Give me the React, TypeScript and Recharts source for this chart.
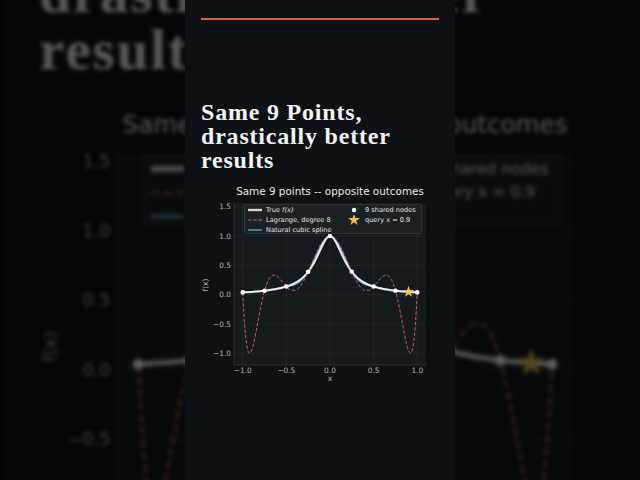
import React from 'react'
import { ComposedChart, Line, Scatter, XAxis, YAxis, CartesianGrid, Symbols } from 'recharts'

// true f(x) = 1 / (1 + 25x^2)
const trueX = [
  -1, -0.95, -0.9, -0.85, -0.8, -0.75, -0.7, -0.65, -0.6, -0.55, -0.5, -0.45, -0.4, -0.35, -0.3, -0.25,
  -0.225, -0.2, -0.175, -0.15, -0.125, -0.1, -0.075, -0.05, -0.025, 0,
  0.025, 0.05, 0.075, 0.1, 0.125, 0.15, 0.175, 0.2, 0.225,
  0.25, 0.3, 0.35, 0.4, 0.45, 0.5, 0.55, 0.6, 0.65, 0.7, 0.75, 0.8, 0.85, 0.9, 0.95, 1
]
const trueY = [
  0.0385, 0.0424, 0.0471, 0.0525, 0.0588, 0.0664, 0.0755, 0.0865, 0.1, 0.1168, 0.1379, 0.1649, 0.2, 0.2462, 0.3077, 0.3902,
  0.4414, 0.5, 0.5664, 0.64, 0.7191, 0.8, 0.8767, 0.9412, 0.9846, 1.0,
  0.9846, 0.9412, 0.8767, 0.8, 0.7191, 0.64, 0.5664, 0.5, 0.4414,
  0.3902, 0.3077, 0.2462, 0.2, 0.1649, 0.1379, 0.1168, 0.1, 0.0865, 0.0755, 0.0664, 0.0588, 0.0525, 0.0471, 0.0424, 0.0385
]

// degree-8 Lagrange curve (dashed)
const lagX = [
  -1, -0.975, -0.95, -0.925, -0.9, -0.875, -0.85, -0.825, -0.8, -0.775, -0.75, -0.725, -0.7, -0.675, -0.65, -0.625, -0.6,
  -0.55, -0.5, -0.45, -0.4, -0.35, -0.3, -0.25, -0.2, -0.15, -0.1, -0.05, 0,
  0.05, 0.1, 0.15, 0.2, 0.25, 0.3, 0.35, 0.4, 0.45, 0.5, 0.55,
  0.6, 0.625, 0.65, 0.675, 0.7, 0.725, 0.75, 0.775, 0.8, 0.825, 0.85, 0.875, 0.9, 0.925, 0.95, 0.975, 1
]
const lagY = [
  0.038, -0.574, -0.892, -0.998, -0.96, -0.831, -0.652, -0.454, -0.259, -0.082, 0.066, 0.182, 0.264, 0.313, 0.333, 0.328, 0.305,
  0.225, 0.138, 0.079, 0.073, 0.127, 0.237, 0.39, 0.564, 0.733, 0.874, 0.967, 1.0,
  0.967, 0.874, 0.733, 0.564, 0.39, 0.237, 0.127, 0.073, 0.079, 0.138, 0.225,
  0.305, 0.328, 0.333, 0.313, 0.264, 0.182, 0.066, -0.082, -0.259, -0.454, -0.652, -0.831, -0.96, -0.998, -0.892, -0.574, 0.038
]

// the 9 shared nodes (spline goes through these)
const nodeX = [-1, -0.75, -0.5, -0.25, 0, 0.25, 0.5, 0.75, 1]
const nodeY = [0.0385, 0.0664, 0.1379, 0.3902, 1.0, 0.3902, 0.1379, 0.0664, 0.0385]

const queryX = [0.9]
const queryY = [0.0471]

const xTicks = [-1, -0.5, 0, 0.5, 1]
const yTicks = [-1, -0.5, 0, 0.5, 1, 1.5]
// ticks still on screen in the enlarged background copy
const bgYTicks = [-0.5, 0, 0.5, 1, 1.5]

const toPoints = (xs: number[], ys: number[]) => xs.map((x, i) => ({ x, y: ys[i] }))

const trueData = toPoints(trueX, trueY)
const lagData = toPoints(lagX, lagY)
const nodeData = toPoints(nodeX, nodeY)
const queryData = toPoints(queryX, queryY)

const PANEL_BG = '#0d1115'
const PLOT_BG = '#151a1f'
const TRUE_COLOR = '#ececec'
const LAG_COLOR = '#c95a72'
const SPLINE_COLOR = '#5fbfe4'
const STAR_COLOR = '#f1c452'
const TICK_COLOR = '#aab0b5'
const SANS = '"DejaVu Sans", sans-serif'

const fmt = (v: number) => v.toFixed(1).replace('-', '\u2212')

// bg = the enlarged copy behind the panel; it skips texts that end up off-screen or hidden
function Chart({ bg }: { bg: boolean }) {
  return (
    <ComposedChart
      width={270}
      height={210}
      margin={{ top: 23, right: 29, bottom: 0, left: 0 }}
      style={{ position: 'absolute', left: 0, top: 180 }}
    >
      <CartesianGrid
        stroke="#262c32"
        strokeWidth={0.6}
        fill={PLOT_BG}
        horizontalValues={yTicks}
        verticalValues={xTicks}
      />
      <XAxis
        dataKey="x"
        type="number"
        domain={[-1.1, 1.1]}
        ticks={xTicks}
        tickFormatter={fmt}
        allowDataOverflow
        height={25}
        tickSize={0}
        tickMargin={3}
        axisLine={{ stroke: '#2b3137' }}
        tick={bg ? false : { fontSize: 7.4, fill: TICK_COLOR, fontFamily: SANS }}
      />
      <YAxis
        dataKey="y"
        type="number"
        domain={[-1.2, 1.563]}
        ticks={bg ? bgYTicks : yTicks}
        tickFormatter={fmt}
        allowDataOverflow
        width={49}
        tickSize={0}
        tickMargin={3}
        axisLine={{ stroke: '#2b3137' }}
        tick={{ fontSize: 7.4, fill: TICK_COLOR, fontFamily: SANS }}
      />
      <Line
        data={nodeData}
        dataKey="y"
        type="natural"
        stroke={SPLINE_COLOR}
        strokeWidth={1.3}
        dot={false}
        activeDot={false}
        isAnimationActive={false}
      />
      <Line
        data={trueData}
        dataKey="y"
        type="monotone"
        stroke={TRUE_COLOR}
        strokeWidth={2}
        dot={false}
        activeDot={false}
        isAnimationActive={false}
      />
      <Line
        data={lagData}
        dataKey="y"
        type="monotone"
        stroke={LAG_COLOR}
        strokeWidth={1}
        strokeDasharray="3.5 1.8"
        dot={false}
        activeDot={false}
        isAnimationActive={false}
      />
      <Scatter
        data={nodeData}
        dataKey="y"
        isAnimationActive={false}
        shape={(p: any) => <circle cx={p.cx} cy={p.cy} r={2.3} fill="#ffffff" />}
      />
      <Scatter
        data={queryData}
        dataKey="y"
        isAnimationActive={false}
        shape={(p: any) => <Symbols cx={p.cx} cy={p.cy} type="star" size={42} fill={STAR_COLOR} />}
      />
    </ComposedChart>
  )
}

function LegendBox({ bg }: { bg: boolean }) {
  const row = (top: number, left: number, handle: React.ReactNode, label: React.ReactNode) => (
    <div style={{ position: 'absolute', left, top, height: 10, display: 'flex', alignItems: 'center' }}>
      <svg width={16} height={10} style={{ display: 'block' }}>
        {handle}
      </svg>
      <span style={{ marginLeft: 3, fontSize: 6.6, lineHeight: '10px', whiteSpace: 'nowrap' }}>{label}</span>
    </div>
  )
  return (
    <div
      style={{
        position: 'absolute',
        left: 59,
        top: 204,
        width: 178,
        height: 30,
        background: 'rgba(30,35,40,0.8)',
        border: '1px solid #2d3338',
        borderRadius: 2,
        boxSizing: 'border-box',
        color: '#e2e4e6',
        fontFamily: SANS
      }}
    >
      {row(0, 2, <line x1={1} x2={15} y1={5} y2={5} stroke="#d6d6d6" strokeWidth={2.4} />,
        bg ? null : <span>True <i>f(x)</i></span>)}
      {row(10, 2, <line x1={1} x2={15} y1={5} y2={5} stroke={LAG_COLOR} strokeWidth={1} strokeDasharray="3.5 1.8" />,
        bg ? null : 'Lagrange, degree 8')}
      {row(20, 2, <line x1={1} x2={15} y1={5} y2={5} stroke={SPLINE_COLOR} strokeWidth={1.2} />,
        bg ? null : 'Natural cubic spline')}
      {row(0, 101, <circle cx={8} cy={5} r={2.2} fill="#ffffff" />, '9 shared nodes')}
      {row(10, 101, <Symbols cx={8} cy={5} type="star" size={42} fill={STAR_COLOR} />, 'query x = 0.9')}
    </div>
  )
}

function Panel({ bg }: { bg: boolean }) {
  return (
    <div style={{ position: 'absolute', left: 0, top: 0, width: 270, height: 480, background: PANEL_BG, overflow: 'hidden' }}>
      <div style={{ position: 'absolute', left: 16, top: 18, width: 238, height: 2, background: '#cc633d' }} />
      <div
        style={{
          position: 'absolute',
          left: 16,
          top: 100,
          fontFamily: '"Liberation Serif", serif',
          fontWeight: 700,
          fontSize: 24,
          lineHeight: '24px',
          letterSpacing: 0.8,
          color: '#f3f3f3',
          whiteSpace: 'nowrap'
        }}
      >
        Same 9 Points,
        <br />
        drastically better
        <br />
        results
      </div>
      <div
        style={{
          position: 'absolute',
          left: 0,
          width: 290,
          top: 185,
          textAlign: 'center',
          fontFamily: SANS,
          fontSize: 10.4,
          lineHeight: '12px',
          color: '#e8e8e8',
          whiteSpace: 'nowrap'
        }}
      >
        Same 9 points -- opposite outcomes
      </div>
      <Chart bg={bg} />
      <LegendBox bg={bg} />
      <div
        style={{
          position: 'absolute',
          left: 9,
          top: 280,
          width: 24,
          height: 10,
          transform: 'rotate(-90deg)',
          textAlign: 'center',
          fontFamily: SANS,
          fontSize: 7.6,
          lineHeight: '10px',
          color: TICK_COLOR
        }}
      >
        f(x)
      </div>
      {!bg && (
        <div
          style={{
            position: 'absolute',
            left: 135,
            top: 374,
            width: 20,
            textAlign: 'center',
            fontFamily: SANS,
            fontSize: 7.6,
            lineHeight: '10px',
            color: TICK_COLOR
          }}
        >
          x
        </div>
      )}
    </div>
  )
}

export default function App() {
  return (
    <div style={{ position: 'fixed', left: 0, top: 0, width: 640, height: 480, overflow: 'hidden', background: '#000' }}>
      {/* blurred, enlarged copy behind the panel */}
      <div
        style={{
          position: 'absolute',
          left: 185,
          top: 0,
          width: 270,
          height: 480,
          transform: 'scale(2.37)',
          transformOrigin: '134px 240px',
          filter: 'blur(1px) brightness(0.36)'
        }}
      >
        <Panel bg />
      </div>
      <div style={{ position: 'absolute', left: 185, top: 0, width: 270, height: 480 }}>
        <Panel bg={false} />
      </div>
    </div>
  )
}
